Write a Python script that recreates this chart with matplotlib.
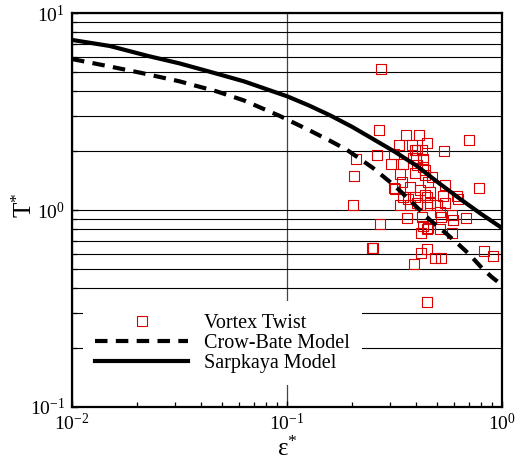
import matplotlib
matplotlib.use("Agg")
import matplotlib.pyplot as plt
from matplotlib.ticker import LogLocator, NullFormatter, FuncFormatter
from matplotlib.lines import Line2D
import numpy as np

plt.rcParams['font.family'] = ['Liberation Serif', 'DejaVu Serif']
plt.rcParams['mathtext.fontset'] = 'custom'
plt.rcParams['mathtext.rm'] = 'Liberation Serif'
plt.rcParams['mathtext.it'] = 'Liberation Serif:italic'
plt.rcParams['mathtext.default'] = 'rm'

# Vortex Twist data (epsilon*, T*)
twist_eps = [0.274, 0.268, 0.357, 0.411, 0.448, 0.332, 0.381, 0.703, 0.537, 0.262,
             0.209, 0.315, 0.403, 0.425, 0.398, 0.429, 0.305, 0.347, 0.205, 0.336,
             0.439, 0.472, 0.453, 0.543, 0.782, 0.315, 0.373, 0.416, 0.462, 0.394,
             0.448, 0.532, 0.624, 0.366, 0.336, 0.373, 0.416, 0.462, 0.499, 0.543,
             0.203, 0.515, 0.585, 0.680, 0.361, 0.425, 0.271, 0.592, 0.429, 0.448,
             0.515, 0.420, 0.585, 0.251, 0.448, 0.420, 0.488, 0.520, 0.824, 0.908,
             0.390, 0.448, 0.403, 0.394, 0.343, 0.347, 0.318, 0.439, 0.618, 0.403,
             0.448, 0.520, 0.453, 0.249, 0.439, 0.429, 0.385, 0.394]
twist_T = [5.20, 2.55, 2.40, 2.40, 2.19, 2.14, 2.14, 2.27, 1.99, 1.90,
           1.82, 1.92, 2.02, 2.02, 1.84, 1.82, 1.71, 1.71, 1.49, 1.52,
           1.60, 1.47, 1.39, 1.34, 1.29, 1.29, 1.31, 1.26, 1.23, 1.16,
           1.16, 1.18, 1.14, 1.14, 1.06, 1.06, 1.06, 1.09, 1.06, 1.09,
           1.06, 0.977, 0.944, 0.910, 0.910, 0.921, 0.849, 0.889, 0.830, 0.801,
           0.801, 0.765, 0.765, 0.641, 0.634, 0.605, 0.571, 0.571, 0.619, 0.584,
           0.532, 0.341, 1.69, 1.54, 1.39, 1.16, 1.28, 1.19, 1.18, 1.09,
           1.06, 0.921, 0.811, 0.645, 1.51, 1.65, 1.84, 2.02]

# Crow-Bate model curve
crow_eps = [0.01, 0.015, 0.0207, 0.0316, 0.0471, 0.063, 0.0927, 0.1, 0.126, 0.158,
            0.19, 0.25, 0.316, 0.373, 0.462, 0.55, 0.618, 0.7, 0.817, 0.9, 1.0]
crow_T = [5.84, 5.35, 4.98, 4.5, 4.0, 3.6, 3.0, 2.88, 2.55, 2.25,
          2.02, 1.64, 1.33, 1.12, 0.89, 0.76, 0.68, 0.6, 0.5, 0.455, 0.416]

# Sarpkaya model curve
sarp_eps = [0.01, 0.015, 0.0226, 0.0316, 0.0447, 0.063, 0.086, 0.1, 0.126, 0.158,
            0.2, 0.25, 0.316, 0.4, 0.5, 0.63, 0.794, 1.0]
sarp_T = [7.3, 6.8, 6.05, 5.55, 5.0, 4.5, 4.0, 3.78, 3.4, 3.03,
          2.65, 2.3, 1.98, 1.68, 1.39, 1.15, 0.96, 0.81]

fig = plt.figure(figsize=(5.18, 4.63), dpi=100)
ax = fig.add_axes([72/518, 56/463, 430/518, 394/463])

ax.set_xscale('log')
ax.set_yscale('log')
ax.set_xlim(0.01, 1)
ax.set_ylim(0.1, 10)


def pow10(v, pos):
    e = int(round(np.log10(v)))
    return '10$^{%d}$' % e


ax.yaxis.set_major_locator(LogLocator(base=10, numticks=10))
ax.yaxis.set_minor_locator(LogLocator(base=10, subs=range(2, 10), numticks=20))
ax.yaxis.set_major_formatter(FuncFormatter(pow10))
ax.yaxis.set_minor_formatter(NullFormatter())
ax.xaxis.set_major_locator(LogLocator(base=10, numticks=10))
ax.xaxis.set_minor_locator(LogLocator(base=10, subs=range(2, 10), numticks=20))
ax.xaxis.set_major_formatter(FuncFormatter(pow10))
ax.xaxis.set_minor_formatter(NullFormatter())

ax.grid(True, which='both', axis='y', color='black', linewidth=0.8, zorder=0)
ax.grid(True, which='major', axis='x', color='#444444', linewidth=0.9, zorder=0)
ax.set_axisbelow(True)

ax.tick_params(which='both', direction='in', top=False, right=False, labelsize=14)
ax.tick_params(which='major', length=4, width=1)
ax.tick_params(axis='x', which='major', pad=4)
ax.tick_params(axis='y', which='major', pad=5)
ax.tick_params(which='minor', length=3.5, width=0.9)
for s in ax.spines.values():
    s.set_linewidth(1.6)

ax.scatter(twist_eps, twist_T, marker='s', s=52, facecolors='none',
           edgecolors='#dd0000', linewidths=0.8, zorder=3)
ax.plot(crow_eps, crow_T, color='black', linewidth=3, linestyle=(0, (3.0, 2.0)), zorder=4)
ax.plot(sarp_eps, sarp_T, color='black', linewidth=3, zorder=4)

handles = [
    Line2D([], [], marker='s', linestyle='none', markersize=7.2, markerfacecolor='none',
           markeredgecolor='#dd0000', markeredgewidth=0.8),
    Line2D([], [], color='black', linewidth=3, linestyle=(0, (3.0, 2.0))),
    Line2D([], [], color='black', linewidth=3),
]
leg = ax.legend(handles, ['Vortex Twist', 'Crow-Bate Model', 'Sarpkaya Model'],
                loc='lower left', bbox_to_anchor=(0.026, 0.056), borderaxespad=0,
                fontsize=14.5, frameon=True, fancybox=False, framealpha=1,
                facecolor='white', edgecolor='none', handlelength=4.6,
                handletextpad=0.8, labelspacing=0.05, borderpad=0.6)
leg.set_zorder(5)

ax.set_xlabel('ε$^{*}$', fontsize=18)
ax.set_ylabel('T$^{*}$', fontsize=18)
ax.xaxis.set_label_coords(0.5, -0.075)
ax.yaxis.set_label_coords(-0.082, 0.513)

fig.savefig('out.png', dpi=100)
